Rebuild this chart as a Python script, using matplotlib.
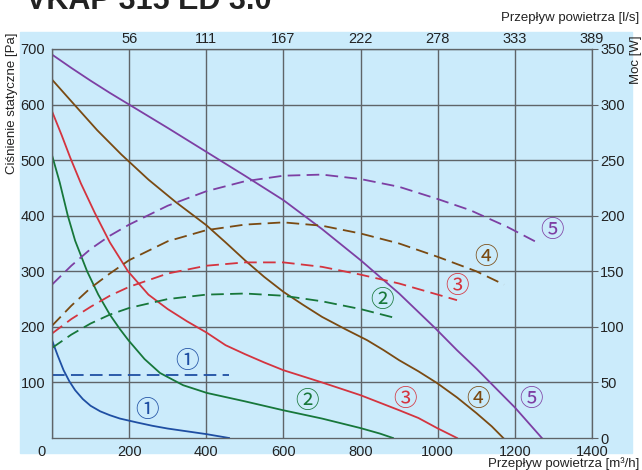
import matplotlib
matplotlib.use("Agg")
from matplotlib import pyplot as plt
from matplotlib.patches import Rectangle
from matplotlib.transforms import ScaledTranslation

plt.rcParams['font.family'] = ['Liberation Sans', 'DejaVu Sans']

# pressure curves [Pa] vs airflow [m3/h]
x1 = [0, 15, 30, 45, 60, 80, 100, 125, 150, 176, 220, 260, 300, 350, 400, 459]
p1 = [176, 148, 122, 102, 86, 70, 58, 48, 41, 35, 28, 22, 17, 12, 7, 0]
x2 = [0, 20, 41, 60, 91, 120, 150, 176, 198, 240, 280, 340, 402, 500, 599, 700, 799, 850, 884]
p2 = [509, 460, 400, 355, 300, 258, 222, 196, 176, 142, 117, 95, 81, 66, 50, 35, 18, 8, 0]
x3 = [0, 25, 47, 75, 111, 150, 197, 250, 300, 350, 400, 450, 500, 550, 600, 700, 800, 900, 950, 998, 1050]
p3 = [588, 545, 505, 458, 405, 352, 300, 258, 232, 210, 190, 167, 151, 136, 122, 100, 77, 50, 36, 18, 0]
x4 = [0, 50, 117, 180, 250, 320, 400, 450, 500, 550, 600, 650, 700, 760, 817, 860, 900, 950, 998, 1050,
      1100, 1140, 1170]
p4 = [645, 606, 554, 510, 465, 425, 383, 352, 320, 290, 263, 240, 218, 196, 176, 158, 140, 120, 99, 73,
      45, 21, 0]
x5 = [0, 50, 100, 150, 200, 300, 400, 500, 600, 700, 800, 900, 993, 1050, 1100, 1150, 1200, 1270]
p5 = [690, 666, 643, 621, 600, 558, 515, 472, 428, 376, 320, 260, 198, 158, 125, 90, 55, 0]

# power curves [W]
wx1 = [0, 100, 200, 300, 400, 460]
w1 = [57, 57, 57, 57, 57, 57]
wx2 = [0, 50, 100, 150, 200, 300, 400, 500, 600, 700, 800, 890]
w2 = [81, 93, 103, 111, 117, 125, 129, 130, 128, 123, 116, 108]
wx3 = [0, 50, 100, 150, 200, 300, 400, 500, 600, 700, 800, 900, 1000, 1050]
w3 = [94, 107, 118, 128, 136, 148, 155, 158, 158, 154, 147, 139, 129, 124]
wx4 = [0, 50, 100, 150, 200, 300, 400, 500, 600, 700, 800, 900, 1000, 1100, 1172]
w4 = [101, 119, 135, 148, 160, 177, 187, 192, 194, 191, 184, 175, 163, 150, 138]
wx5 = [0, 50, 100, 150, 200, 300, 400, 500, 600, 700, 800, 900, 1000, 1084, 1180, 1263]
w5 = [138, 155, 170, 182, 192, 209, 222, 231, 236, 237, 233, 226, 215, 205, 190, 175]

top_ticks = [200, 400, 600, 800, 1000, 1200, 1400]
top_labels = ['56', '111', '167', '222', '278', '333', '389']

colors = ['#1f4fa3', '#17773a', '#d4343f', '#7a4a12', '#7d3fa3']
bg = '#cbebfb'
grid_c = '#5f6468'

# label positions (x, Pa) for the circled numbers
solid_lab = [(246, 50), (661, 65), (915, 70), (1104, 70), (1242, 70)]
dash_lab = [(350, 137), (855, 248), (1050, 272), (1125, 324), (1296, 374)]
circ = ['①', '②', '③', '④', '⑤']

fig = plt.figure(figsize=(6.42, 4.7), dpi=100)
fig.patches.append(Rectangle((20 / 642, 17 / 470), 612 / 642, 421 / 470,
                             transform=fig.transFigure, color=bg, zorder=-10))

ax = fig.add_axes([52 / 642, 32 / 470, 540 / 642, 389 / 470])
ax.set_facecolor(bg)
ax.set_xlim(0, 1400)
ax.set_ylim(0, 700)
ax.set_xticks(range(0, 1401, 200))
ax.set_yticks(range(100, 701, 100))
ax.tick_params(length=0, labelsize=10.5, colors='#222222', pad=5)
ax.grid(True, color=grid_c, lw=1)
for s in ax.spines.values():
    s.set_color(grid_c)
lbl0 = ax.get_xticklabels()[0]
lbl0.set_transform(lbl0.get_transform() + ScaledTranslation(-0.10, 0, fig.dpi_scale_trans))

for xs, ps, c in zip([x1, x2, x3, x4, x5], [p1, p2, p3, p4, p5], colors):
    ax.plot(xs, ps, color=c, lw=1.3)

ax2 = ax.twinx()
ax2.set_ylim(0, 350)
ax2.set_yticks(range(0, 351, 50))
ax2.tick_params(length=4, labelsize=10.5, colors='#222222', pad=2)
ax2.tick_params(axis='y', color=grid_c)
for s in ax2.spines.values():
    s.set_color(grid_c)
for xs, ws, c in zip([wx1, wx2, wx3, wx4, wx5], [w1, w2, w3, w4, w5], colors):
    ax2.plot(xs, ws, color=c, lw=1.3, dashes=(7, 3.5))

ax3 = ax.twiny()
ax3.set_xlim(0, 1400)
ax3.set_xticks(top_ticks)
ax3.set_xticklabels(top_labels)
ax3.tick_params(length=0, labelsize=10.5, colors='#222222', pad=2)
for s in ax3.spines.values():
    s.set_color(grid_c)

for (x, p), (xd, pd), t, c in zip(solid_lab, dash_lab, circ, colors):
    ax.text(x, p, t, color=c, fontsize=17, ha='center', va='center',
            family=['Noto Sans CJK JP', 'DejaVu Sans'])
    ax.text(xd, pd, t, color=c, fontsize=17, ha='center', va='center',
            family=['Noto Sans CJK JP', 'DejaVu Sans'])

fig.text(26 / 642, 1 - 9 / 470, 'VKAP 315 ED 3.0', fontsize=22, weight='bold',
         va='baseline', color='#222222')
fig.text(639 / 642, 1 - 18 / 470, 'Przepływ powietrza [l/s]', fontsize=9.5,
         ha='right', va='center', color='#222222')
fig.text(639 / 642, 1 - 464 / 470, 'Przepływ powietrza [m³/h]', fontsize=9.5,
         ha='right', va='center', color='#222222')
fig.text(12 / 642, 1 - 33 / 470, 'Ciśnienie statyczne [Pa]', fontsize=9.5,
         rotation=90, ha='center', va='top', color='#222222')
fig.text(636 / 642, 1 - 35 / 470, 'Moc [W]', fontsize=9.5,
         rotation=90, ha='center', va='top', color='#222222')

fig.savefig('out.png', dpi=100)
